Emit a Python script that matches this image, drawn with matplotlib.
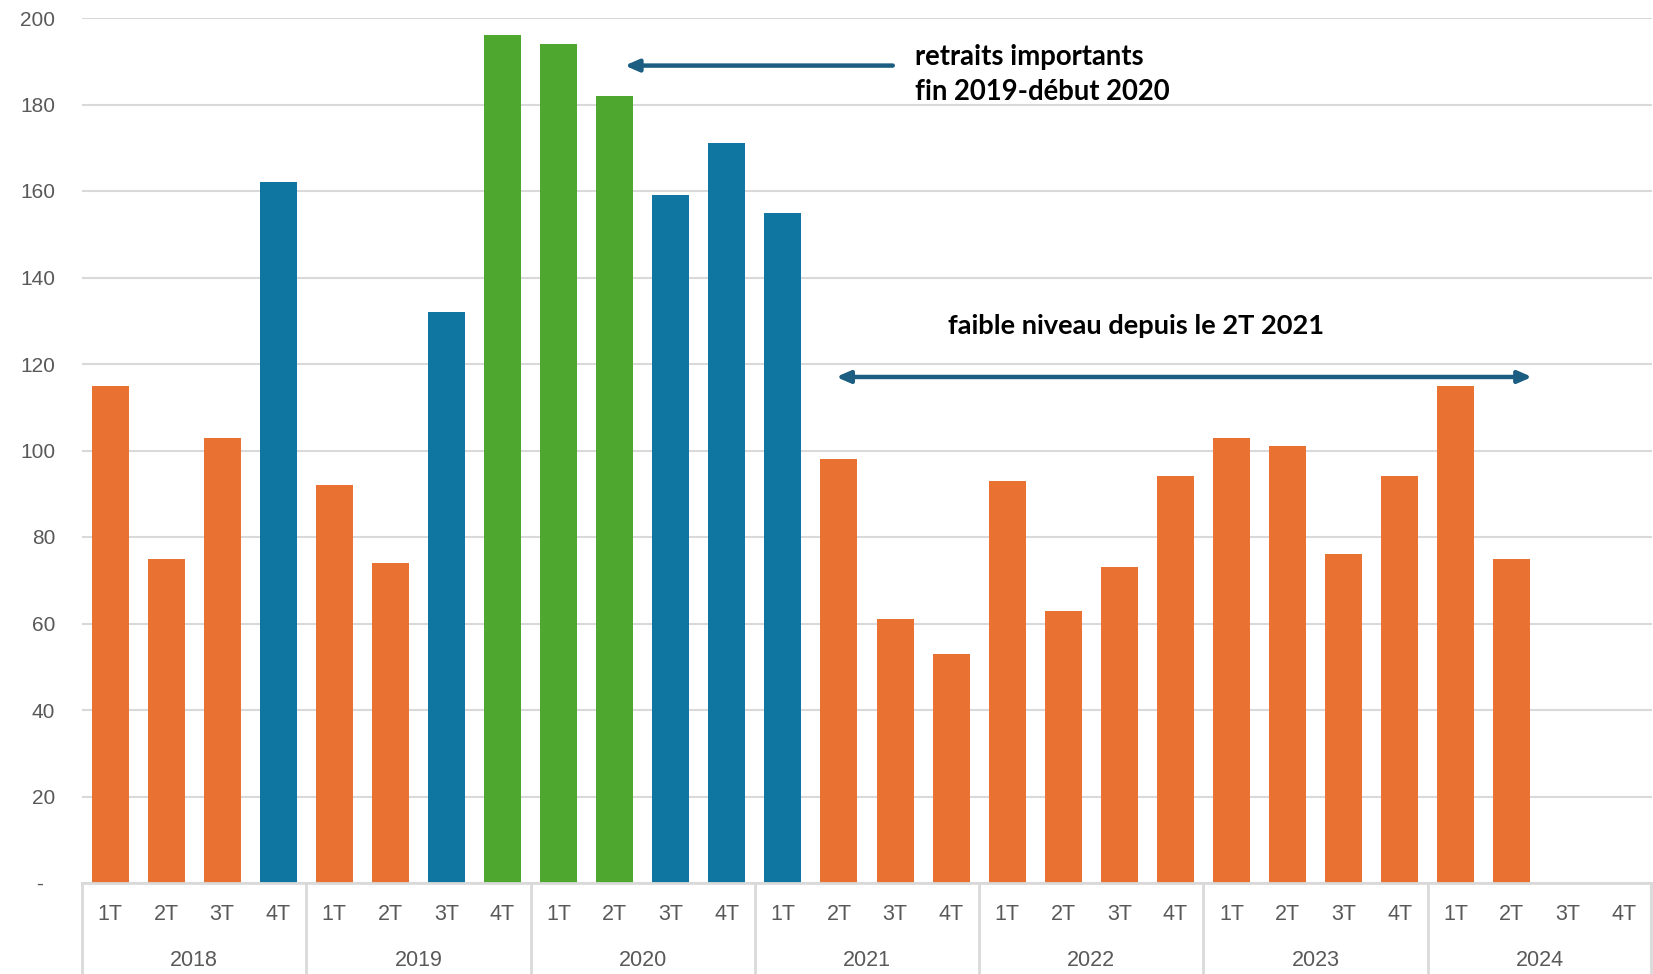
import matplotlib
matplotlib.use("Agg")
import matplotlib.pyplot as plt
import matplotlib.transforms as mtransforms

# ---- data ----
annees = ["2018", "2019", "2020", "2021", "2022", "2023", "2024"]
trimestres = ["1T", "2T", "3T", "4T"]
valeurs = [115, 75, 103, 162,
           92, 74, 132, 196,
           194, 182, 159, 171,
           155, 98, 61, 53,
           93, 63, 73, 94,
           103, 101, 76, 94,
           115, 75, None, None]
groupe = ["n", "n", "n", "f",
          "n", "n", "f", "t",
          "t", "t", "f", "f",
          "f", "n", "n", "n",
          "n", "n", "n", "n",
          "n", "n", "n", "n",
          "n", "n", "n", "n"]
y_ticks = [0, 20, 40, 60, 80, 100, 120, 140, 160, 180, 200]
texte_haut = "retraits importants\nfin 2019-début 2020"
texte_bas = "faible niveau depuis le 2T 2021"

couleurs = {"n": "#E97132", "f": "#0E76A0", "t": "#4EA72E"}
gris = "#D9D9D9"
gris_txt = "#595959"
fleche = "#1B5E82"
police = ["Liberation Sans", "DejaVu Sans"]
police_annot = ["Lato", "DejaVu Sans"]

W, H = 1653, 974
fig = plt.figure(figsize=(W / 100, H / 100), dpi=100)
left_px, right_px, top_px, base_px = 82, 1652, 18, 883
ax = fig.add_axes([left_px / W, 1 - base_px / H, (right_px - left_px) / W, (base_px - top_px) / H])

n = len(valeurs)
xs = list(range(n))
for x, v, g in zip(xs, valeurs, groupe):
    if v is None:
        continue
    ax.bar(x, v, width=0.66, color=couleurs[g], zorder=3)

ax.set_xlim(-0.5, n - 0.5)
ax.set_ylim(0, 200)
ax.set_yticks(y_ticks)
ax.set_yticklabels(["-  " if t == 0 else str(t) for t in y_ticks],
                   fontsize=15, color=gris_txt, family=police)
ax.tick_params(axis="y", length=0, pad=19.4)
ax.set_xticks([])
ax.grid(axis="y", color=gris, lw=1.5, zorder=0)
for s in ax.spines.values():
    s.set_visible(False)
ax.axhline(0, color=gris, lw=2, zorder=4, clip_on=False)

# multi-level category axis
trans = mtransforms.blended_transform_factory(ax.transData, ax.transAxes)
px_per_unit_ax = 1.0 / (base_px - top_px)
y_q = -(915 - base_px) * px_per_unit_ax
y_a = -(961 - base_px) * px_per_unit_ax
y_bot = -(H - base_px) * px_per_unit_ax
for i in range(n):
    ax.text(i, y_q, trimestres[i % 4], transform=trans, ha="center", va="center",
            fontsize=15.5, color=gris_txt, family=police, clip_on=False)
for k, a in enumerate(annees):
    ax.text(4 * k + 1.5, y_a, a, transform=trans, ha="center", va="center",
            fontsize=15.5, color=gris_txt, family=police, clip_on=False)
for k in range(len(annees) + 1):
    xb = 4 * k - 0.5
    if k == len(annees):
        xb -= 0.01
    ax.plot([xb, xb], [0, y_bot], transform=trans, color=gris, lw=2, clip_on=False)

# annotations
ax.annotate("", xy=(9.18, 189), xytext=(13.96, 189),
            arrowprops=dict(arrowstyle="-|>,head_length=0.8,head_width=0.35",
                            color=fleche, lw=3.2, shrinkA=0, shrinkB=0), zorder=5)
ax.text(14.36, 186.9, texte_haut, ha="left", va="center", fontsize=19.8,
        fontweight="bold", color="black", family=police_annot, linespacing=1.42, zorder=5)
ax.annotate("", xy=(12.95, 117), xytext=(25.36, 117),
            arrowprops=dict(arrowstyle="<|-|>,head_length=0.8,head_width=0.35",
                            color=fleche, lw=3.2, shrinkA=0, shrinkB=0), zorder=5)
ax.text(14.94, 128.8, texte_bas, ha="left", va="center", fontsize=19.6,
        fontweight="bold", color="black", family=police_annot, zorder=5)

fig.savefig("out.png", dpi=100)
